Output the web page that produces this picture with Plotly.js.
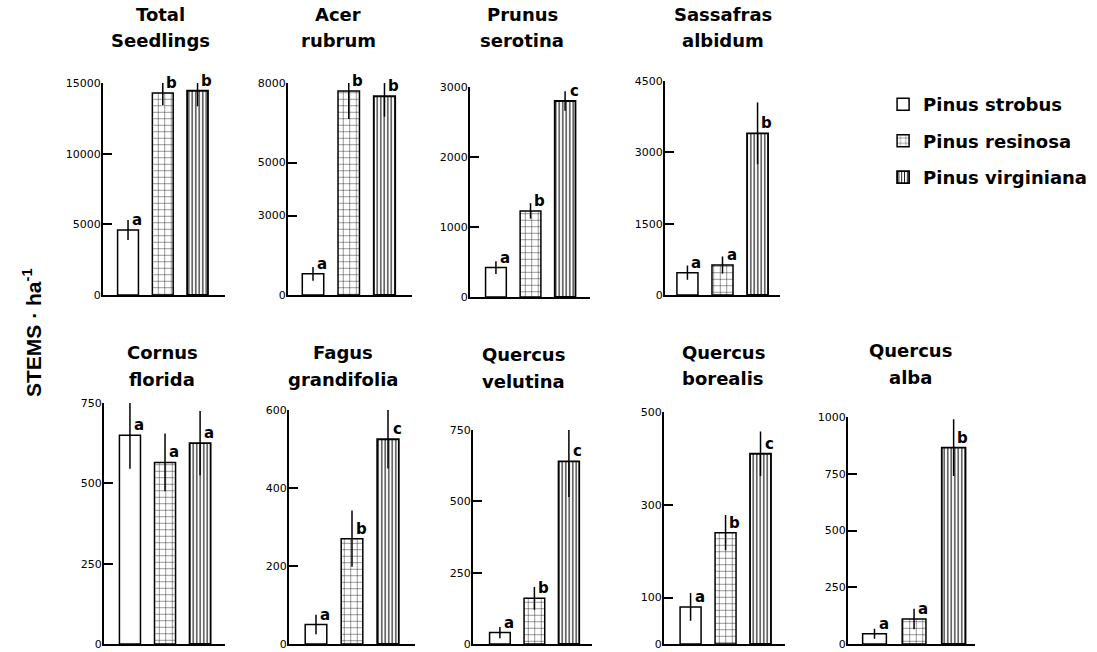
<!DOCTYPE html>
<html><head><meta charset="utf-8">
<script src="https://cdn.plot.ly/plotly-3.0.1.min.js"></script>
<style>html,body{margin:0;padding:0;background:#fff}#chart{width:1097px;height:652px}</style>
</head><body><div id="chart"></div>
<script>
// ---- data ----
const titleLine1 = ['Total','Acer','Prunus','Sassafras','Cornus','Fagus','Quercus','Quercus','Quercus'];
const titleLine2 = ['Seedlings','rubrum','serotina','albidum','florida','grandifolia','velutina','borealis','alba'];
const pines = ['Pinus strobus','Pinus resinosa','Pinus virginiana'];
const strobus    = [4600, 800, 420, 470, 650, 50, 40, 80, 45];
const resinosa   = [14300, 7700, 1230, 630, 565, 270, 160, 240, 110];
const virginiana = [14450, 7500, 2800, 3400, 625, 525, 640, 410, 865];
const errStrobus    = [700, 260, 90, 150, 105, 25, 20, 30, 22];
const errResinosa   = [850, 1060, 110, 180, 90, 72, 40, 38, 45];
const errVirginiana = [1100, 770, 140, 650, 100, 75, 125, 48, 125];
const letStrobus    = ['a','a','a','a','a','a','a','a','a'];
const letResinosa   = ['b','b','b','a','a','b','b','b','a'];
const letVirginiana = ['b','b','c','b','a','c','c','c','b'];
const tickValues = [
  [0,5000,10000,15000],
  [0,3000,5000,8000],
  [0,1000,2000,3000],
  [0,1500,3000,4500],
  [0,250,500,750],
  [0,200,400,600],
  [0,250,500,750],
  [0,100,300,500],
  [0,250,500,750,1000]
];

// ---- layout geometry (pixels) ----
const W = 1097, H = 652;
// [left, right, top, bottom, xlo, xhi, titleCenterX, titleY1, titleY2]
const panels = [
  [103, 225, 83, 295, -0.72, 2.79, 160, 15, 41],
  [288, 412, 83, 295, -0.70, 2.77, 338, 15, 41],
  [470, 590, 87, 297, -0.75, 2.72, 522, 15, 41],
  [665, 780, 81, 295, -0.64, 2.64, 723, 15, 41],
  [104, 225, 403, 644, -0.74, 2.71, 162, 352, 379],
  [289, 415, 410, 644, -0.75, 2.75, 343, 352, 379],
  [473, 592, 430, 644, -0.78, 2.67, 523, 354, 381],
  [664, 785, 412, 644, -0.76, 2.70, 723, 352, 378],
  [848, 975, 417, 644, -0.67, 2.54, 910, 350, 377]
];

const series = [
  {name: pines[0], vals: strobus, errs: errStrobus, lets: letStrobus,
   marker: {color:'white', line:{color:'black', width:1.5}}},
  {name: pines[1], vals: resinosa, errs: errResinosa, lets: letResinosa,
   marker: {color:'white', line:{color:'black', width:1.5},
            pattern:{shape:'+', fgcolor:'black', bgcolor:'white', size:6.5, solidity:0.12}}},
  {name: pines[2], vals: virginiana, errs: errVirginiana, lets: letVirginiana,
   marker: {color:'white', line:{color:'black', width:1.8},
            pattern:{shape:'|', fgcolor:'black', bgcolor:'white', size:3.5, solidity:0.3}}}
];

const traces = [];
const annotations = [];
const layout = {
  width: W, height: H,
  margin: {l:0, r:0, t:0, b:0},
  paper_bgcolor: 'white', plot_bgcolor: 'rgba(0,0,0,0)',
  barmode: 'overlay',
  showlegend: true,
  legend: {x: 0.805, y: 0.868, xanchor:'left', yanchor:'top', tracegroupgap: 10,
           font: {family:'DejaVu Sans', size:18, color:'black', weight:'bold'},
           bgcolor:'rgba(0,0,0,0)'},
  font: {family: 'DejaVu Sans', color: 'black'},
  annotations: annotations
};
const fontBold = 'DejaVu Sans';

panels.forEach((p, i) => {
  const k = i + 1;
  const xa = 'x' + (k === 1 ? '' : k), ya = 'y' + (k === 1 ? '' : k);
  const xKey = 'xaxis' + (k === 1 ? '' : k), yKey = 'yaxis' + (k === 1 ? '' : k);
  const tv = tickValues[i];
  layout[xKey] = {
    domain: [p[0]/W, p[1]/W], anchor: ya, type: 'category',
    categoryorder: 'array', categoryarray: pines,
    range: [p[4], p[5]], showline: true, linecolor: 'black', linewidth: 2,
    showticklabels: false, ticks: '', showgrid: false, zeroline: false, fixedrange: true
  };
  layout[yKey] = {
    domain: [1 - p[3]/H, 1 - p[2]/H], anchor: xa,
    range: [0, tv[tv.length-1]], tickvals: tv, ticktext: tv.map(String),
    ticks: 'inside', ticklen: 9, tickwidth: 2, tickcolor: 'black',
    showline: true, linecolor: 'black', linewidth: 2,
    showgrid: false, zeroline: false, fixedrange: true,
    tickfont: {family: 'DejaVu Sans', size: 11, color: 'black'},
    ticklabelstandoff: -2
  };
  series.forEach((s, j) => {
    traces.push({
      type: 'bar', x: [s.name], y: [s.vals[i]], name: s.name,
      xaxis: xa, yaxis: ya, width: 0.6,
      marker: s.marker,
      error_y: {type:'data', array:[s.errs[i]], visible:true, color:'black', thickness:1.5, width:0},
      showlegend: i === 0, legendgroup: s.name, hoverinfo: 'skip'
    });
    annotations.push({
      xref: xa, yref: ya, x: s.name, y: s.vals[i], text: s.lets[i],
      showarrow: false, xanchor: 'center', yanchor: 'bottom', xshift: 9, yshift: -1,
      font: {family: fontBold, size: 15, color: 'black', weight: 'bold'}
    });
  });
  annotations.push({
    xref: 'paper', yref: 'paper', x: p[6]/W, y: 1 - p[7]/H, text: titleLine1[i],
    showarrow: false, xanchor: 'center', yanchor: 'middle',
    font: {family: fontBold, size: 18, color: 'black', weight: 'bold'}
  });
  annotations.push({
    xref: 'paper', yref: 'paper', x: p[6]/W, y: 1 - p[8]/H, text: titleLine2[i],
    showarrow: false, xanchor: 'center', yanchor: 'middle',
    font: {family: fontBold, size: 18, color: 'black', weight: 'bold'}
  });
});

annotations.push({
  xref: 'paper', yref: 'paper', x: 32/W, y: 1 - 333/H,
  text: 'STEMS · ha<sup>-1</sup>', textangle: -90, showarrow: false,
  xanchor: 'center', yanchor: 'middle',
  font: {family: 'Liberation Sans', size: 21, color: 'black', weight: 'bold'}
});

Plotly.newPlot('chart', traces, layout, {staticPlot: true, displayModeBar: false});
</script>
</body></html>
